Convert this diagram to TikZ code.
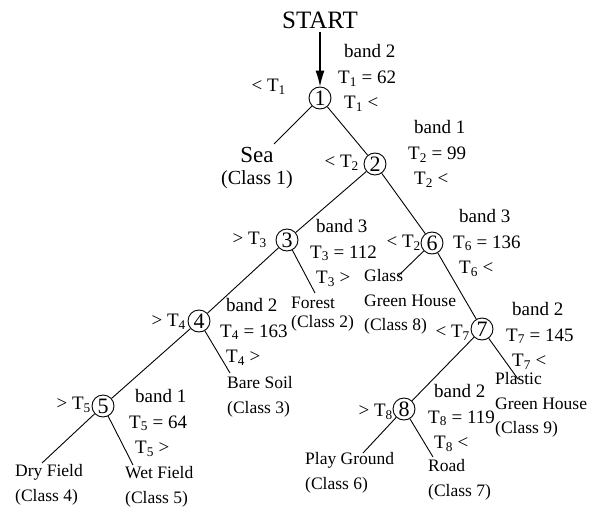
\documentclass[tikz,border=0pt]{standalone}
\usepackage{fontspec}
\setmainfont{Liberation Serif}
\usetikzlibrary{arrows.meta}
\newcommand{\Tn}[1]{T\textsubscript{#1}}
\newcommand{\ind}{\hspace*{6pt}}

\begin{document}
\begin{tikzpicture}[x=1pt, y=-1pt,
    split/.style={circle, draw, line width=0.9pt, inner sep=0pt, minimum size=22pt, font=\fontsize{22}{24}\selectfont},
    cond/.style={anchor=west, align=left, inner sep=0pt, font=\fontsize{19}{25.5}\selectfont},
    side/.style={anchor=east, inner sep=0pt, font=\fontsize{19}{22}\selectfont},
    leaf/.style={anchor=west, align=left, inner sep=0pt, font=\fontsize{17.5}{24.5}\selectfont},
    branch/.style={line width=0.9pt}]
    \useasboundingbox (0,0) rectangle (602,511);

    % Start
    \node[font=\fontsize{25}{28}\selectfont] (start) at (320,20) {START};

    % Split nodes
    \node[split] (n1) at (320,98) {1};
    \node[split] (n2) at (375,164) {2};
    \node[split] (n3) at (287,240) {3};
    \node[split] (n6) at (432,243) {6};
    \node[split] (n4) at (199,321) {4};
    \node[split] (n7) at (482,329) {7};
    \node[split] (n5) at (103,406) {5};
    \node[split] (n8) at (404,409) {8};

    % Thresholds
    \node[cond] (c1) at (338,78) {\ind band 2\\\Tn{1} = 62\\\ind\Tn{1} <};
    \node[cond] (c2) at (408,154) {\ind band 1\\\Tn{2} = 99\\\ind\Tn{2} <};
    \node[cond] (c3) at (310,253) {\ind band 3\\\Tn{3} = 112\\\ind\Tn{3} >};
    \node[cond] (c6) at (453,243) {\ind band 3\\\Tn{6} = 136\\\ind\Tn{6} <};
    \node[cond] (c4) at (220,332) {\ind band 2\\\Tn{4} = 163\\\ind\Tn{4} >};
    \node[cond] (c7) at (506,336) {\ind band 2\\\Tn{7} = 145\\\ind\Tn{7} <};
    \node[cond] (c5) at (129,423) {\ind band 1\\\Tn{5} = 64\\\ind\Tn{5} >};
    \node[cond] (c8) at (428,418) {\ind band 2\\\Tn{8} = 119\\\ind\Tn{8} <};

    \node[side] (s1) at (286,87) {< \Tn{1}};
    \node[side] (s2) at (359,163) {< \Tn{2}};
    \node[side] (s3) at (267,240) {> \Tn{3}};
    \node[side] (s6) at (421,243) {< \Tn{2}};
    \node[side] (s4) at (186,322) {> \Tn{4}};
    \node[side] (s7) at (470,333) {< \Tn{7}};
    \node[side] (s5) at (91,405) {> \Tn{5}};
    \node[side] (s8) at (393,412) {> \Tn{8}};

    % Classes
    \node[inner sep=0pt, font=\fontsize{23}{25}\selectfont] (sea) at (257,155) {Sea};
    \node[inner sep=0pt, font=\fontsize{20}{22}\selectfont] (seaclass) at (257,180) {(Class 1)};
    \node[leaf, font=\fontsize{17.5}{19}\selectfont] (forest) at (291,314) {Forest\\(Class 2)};
    \node[leaf] (glass) at (364,302) {Glass\\Green House\\(Class 8)};
    \node[leaf] (bare) at (227,397) {Bare Soil\\(Class 3)};
    \node[leaf] (plastic) at (495,405) {Plastic\\Green House\\(Class 9)};
    \node[leaf] (dry) at (15,485) {Dry Field\\(Class 4)};
    \node[leaf] (wet) at (125,487) {Wet Field\\(Class 5)};
    \node[leaf] (play) at (305,473) {Play Ground\\(Class 6)};
    \node[leaf] (road) at (428,480) {Road\\(Class 7)};

    % Branch ends
    \coordinate (e_sea) at (274,144);
    \coordinate (e_forest) at (315,293);
    \coordinate (e_glass) at (398,276);
    \coordinate (e_bare) at (230,373);
    \coordinate (e_plastic) at (518,379);
    \coordinate (e_dry) at (42,463);
    \coordinate (e_wet) at (133,465);
    \coordinate (e_play) at (363,453);
    \coordinate (e_road) at (433,457);

    % Branches
    \draw[line width=1.1pt, -{Latex[length=16pt,width=9pt]}] (start) -- (n1);
    \draw[branch] (n1) -- (e_sea);
    \draw[branch] (n1) -- (n2);
    \draw[branch] (n2) -- (n3);
    \draw[branch] (n2) -- (n6);
    \draw[branch] (n3) -- (n4);
    \draw[branch] (n3) -- (e_forest);
    \draw[branch] (n6) -- (e_glass);
    \draw[branch] (n6) -- (n7);
    \draw[branch] (n4) -- (n5);
    \draw[branch] (n4) -- (e_bare);
    \draw[branch] (n7) -- (n8);
    \draw[branch] (n7) -- (e_plastic);
    \draw[branch] (n5) -- (e_dry);
    \draw[branch] (n5) -- (e_wet);
    \draw[branch] (n8) -- (e_play);
    \draw[branch] (n8) -- (e_road);
\end{tikzpicture}
\end{document}
